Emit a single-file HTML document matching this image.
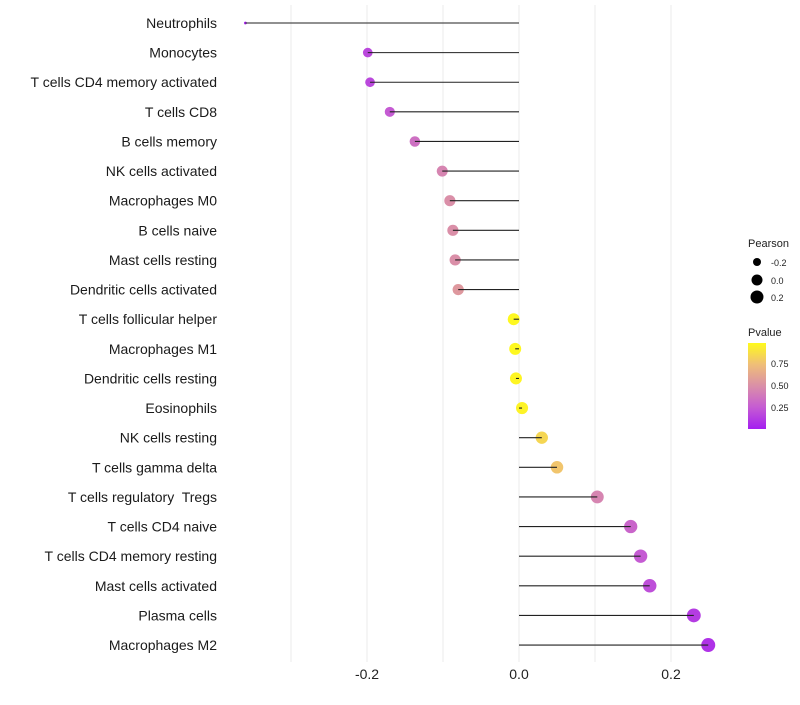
<!DOCTYPE html>
<html><head><meta charset="utf-8"><style>
body{margin:0;background:#fff;width:800px;height:700px;overflow:hidden;font-family:"Liberation Sans",sans-serif}
text{white-space:pre}
</style></head><body>
<svg id="chart" width="800" height="700" xmlns="http://www.w3.org/2000/svg" font-family="Liberation Sans, sans-serif">
<defs><linearGradient id="pg" x1="0" y1="1" x2="0" y2="0">
<stop offset="0" stop-color="#A41FF0"/><stop offset="0.25" stop-color="#C55BD3"/><stop offset="0.5" stop-color="#DA8FA8"/><stop offset="0.75" stop-color="#EFBE78"/><stop offset="1" stop-color="#FFFA1C"/></linearGradient></defs>
<g id="grid"></g><g id="points"></g><g id="stems"></g><g id="labels"></g>
<g>
<text x="748" y="247" font-size="11" fill="#222">Pearson</text>
<circle cx="757" cy="262" r="4" fill="#000"/><text x="771" y="266" font-size="9" fill="#222">-0.2</text>
<circle cx="757" cy="280" r="5.5" fill="#000"/><text x="771" y="284" font-size="9" fill="#222">0.0</text>
<circle cx="757" cy="297" r="6.5" fill="#000"/><text x="771" y="301" font-size="9" fill="#222">0.2</text>
<text x="748" y="336" font-size="11" fill="#222">Pvalue</text>
<rect x="748" y="343" width="18" height="86" fill="url(#pg)"/>
<text x="771" y="367" font-size="9" fill="#222">0.75</text>
<text x="771" y="389" font-size="9" fill="#222">0.50</text>
<text x="771" y="411" font-size="9" fill="#222">0.25</text>
</g>
</svg>
<script>
const categories=["Neutrophils","Monocytes","T cells CD4 memory activated","T cells CD8","B cells memory","NK cells activated","Macrophages M0","B cells naive","Mast cells resting","Dendritic cells activated","T cells follicular helper","Macrophages M1","Dendritic cells resting","Eosinophils","NK cells resting","T cells gamma delta","T cells regulatory  Tregs","T cells CD4 naive","T cells CD4 memory resting","Mast cells activated","Plasma cells","Macrophages M2"];
const pearson=[-0.360,-0.199,-0.196,-0.170,-0.137,-0.101,-0.091,-0.087,-0.084,-0.080,-0.007,-0.005,-0.004,0.004,0.030,0.050,0.103,0.147,0.160,0.172,0.230,0.249];
const pvalues=[0.02,0.17,0.17,0.25,0.35,0.45,0.5,0.5,0.5,0.55,0.99,0.99,0.98,0.97,0.85,0.78,0.45,0.3,0.25,0.2,0.12,0.08];
const xTicks=[-0.2,0.0,0.2];
const xTickLabels=["-0.2","0.0","0.2"];
const gridVals=[-0.3,-0.2,-0.1,0,0.1,0.2];
const ns="http://www.w3.org/2000/svg";
const X=v=>519+v*760;
const Y=i=>23+i*29.62;
function mk(t,a,p){const e=document.createElementNS(ns,t);for(const k in a)e.setAttribute(k,a[k]);p.appendChild(e);return e;}
const stops=[[0,[164,31,240]],[0.25,[197,91,211]],[0.5,[218,143,168]],[0.75,[239,190,120]],[1,[255,250,28]]];
function col(p){for(let i=1;i<stops.length;i++){if(p<=stops[i][0]){const a=stops[i-1],b=stops[i],t=(p-a[0])/(b[0]-a[0]);return "rgb("+a[1].map((c,j)=>Math.round(c+(b[1][j]-c)*t)).join(",")+")";}}return "rgb(255,250,28)";}
const mn=Math.min(...pearson),mx=Math.max(...pearson);
const R=v=>Math.sqrt(2+47*Math.pow((v-mn)/(mx-mn),0.6));
const g=document.getElementById('grid'),pt=document.getElementById('points'),st=document.getElementById('stems'),l=document.getElementById('labels');
gridVals.forEach(v=>{const e=mk('line',{x1:X(v),x2:X(v),y1:5,y2:662,stroke:'#ebebeb','stroke-width':1},g);

});
xTicks.forEach((v,i)=>{const t=mk('text',{x:X(v),y:679,'font-size':14,'text-anchor':'middle',fill:'#222'},l);t.textContent=xTickLabels[i];

});
categories.forEach((c,i)=>{const y=Y(i);
const t=mk('text',{x:217,y:y+5,'font-size':14,'text-anchor':'end',fill:'#1a1a1a'},l);t.textContent=c;


const d=mk('circle',{cx:X(pearson[i]),cy:y,r:R(pearson[i]),fill:col(pvalues[i])},pt);


const ln=mk('line',{x1:X(0),x2:X(pearson[i]),y1:y,y2:y,stroke:'#222','stroke-width':1.1},st);

});
</script>
</body></html>
